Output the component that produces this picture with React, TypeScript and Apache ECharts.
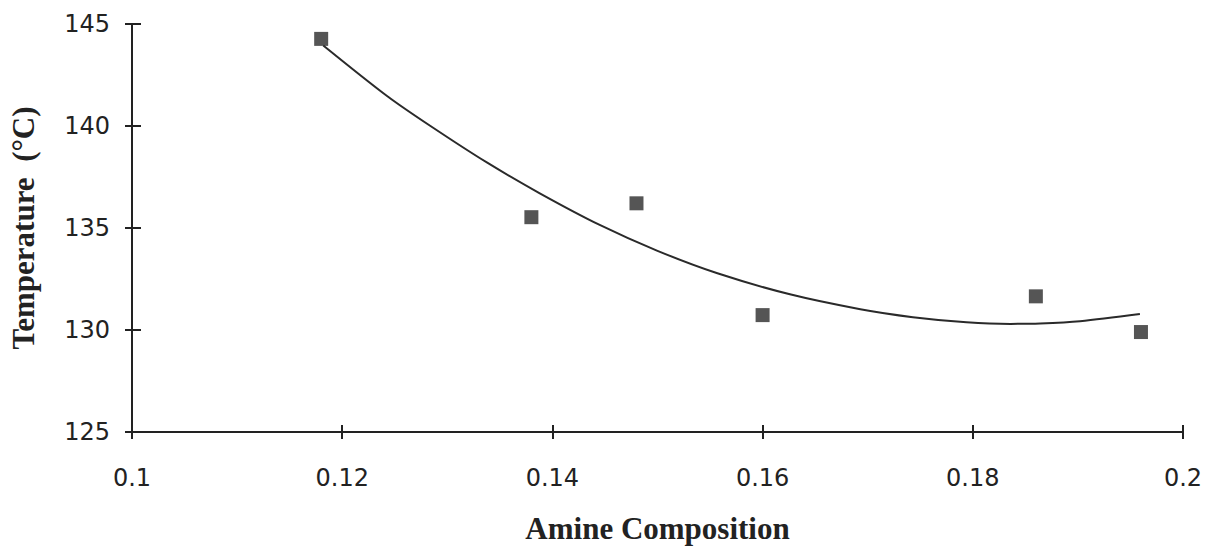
import React, { useEffect, useRef } from "react";
import * as echarts from "echarts";

const xTicks = [0.1, 0.12, 0.14, 0.16, 0.18, 0.2];
const yTicks = [125, 130, 135, 140, 145];
const pointX = [0.118, 0.138, 0.148, 0.16, 0.186, 0.196];
const pointY = [144.27, 135.53, 136.21, 130.73, 131.65, 129.9];
const curveX = [0.1182, 0.1243, 0.1284, 0.1338, 0.1388, 0.1445, 0.15, 0.1557, 0.1626, 0.1693, 0.1743, 0.1794, 0.1836, 0.1864, 0.1902, 0.1959];
const curveY = [143.95, 141.46, 140.0, 138.2, 136.7, 135.15, 133.88, 132.78, 131.75, 131.02, 130.63, 130.38, 130.3, 130.32, 130.43, 130.78];

const fmtX = (v: number) => {
  const hit = xTicks.find((t) => Math.abs(t - v) < 1e-9);
  return hit === undefined ? "" : String(hit);
};
const fmtY = (v: number) => {
  const hit = yTicks.find((t) => Math.abs(t - v) < 1e-9);
  return hit === undefined ? "" : String(hit);
};

export default function App() {
  const ref = useRef<HTMLDivElement>(null);
  useEffect(() => {
    if (!ref.current) return;
    const chart = echarts.init(ref.current, undefined, { renderer: "svg" });
    const axisLine = { show: true, lineStyle: { color: "#222", width: 2 } };
    const tickFont = { fontFamily: "DejaVu Sans", fontSize: 24, color: "#222" };
    const titleFont = { fontFamily: "Liberation Serif", fontWeight: "bold", fontSize: 31, color: "#222" };
    chart.setOption({
      animation: false,
      backgroundColor: "#fff",
      grid: { left: 132, right: 29, top: 24, bottom: 113, containLabel: false },
      xAxis: [
        {
          type: "value", min: 0.1, max: 0.2, interval: 0.02,
          axisLine, splitLine: { show: false },
          axisTick: { show: true, length: 7, lineStyle: { color: "#222", width: 2 } },
          axisLabel: { ...tickFont, margin: 34, formatter: fmtX },
          name: "Amine Composition", nameLocation: "middle", nameGap: 81,
          nameTextStyle: titleFont,
        },
        {
          type: "value", min: 0.1, max: 0.2, interval: 0.02, position: "bottom",
          axisLine: { show: false }, splitLine: { show: false },
          axisTick: { show: true, inside: true, length: 7, lineStyle: { color: "#222", width: 2 } },
          axisLabel: { show: false },
        },
      ],
      yAxis: [
        {
          type: "value", min: 125, max: 145, interval: 5,
          axisLine, splitLine: { show: false },
          axisTick: { show: true, length: 7, lineStyle: { color: "#222", width: 2 } },
          axisLabel: { ...tickFont, margin: 22, formatter: fmtY },
          name: "Temperature  (\u00B0C)", nameLocation: "middle", nameGap: 93,
          nameTextStyle: titleFont,
        },
        {
          type: "value", min: 125, max: 145, interval: 5, position: "left",
          axisLine: { show: false }, splitLine: { show: false },
          axisTick: { show: true, inside: true, length: 9, lineStyle: { color: "#222", width: 2 } },
          axisLabel: { show: false },
        },
      ],
      series: [
        {
          type: "line",
          data: curveX.map((x, i) => [x, curveY[i]]),
          smooth: 0.3,
          showSymbol: false,
          symbol: "none",
          lineStyle: { color: "#2a2a2a", width: 2 },
          z: 2,
        },
        {
          type: "scatter",
          data: pointX.map((x, i) => [x, pointY[i]]),
          symbol: "rect",
          symbolSize: 14,
          itemStyle: { color: "#2b2b2b" },
          z: 3,
        },
      ],
    });
    return () => chart.dispose();
  }, []);
  return <div ref={ref} style={{ width: 1212, height: 549, position: "absolute", left: 0, top: 0 }} />;
}
